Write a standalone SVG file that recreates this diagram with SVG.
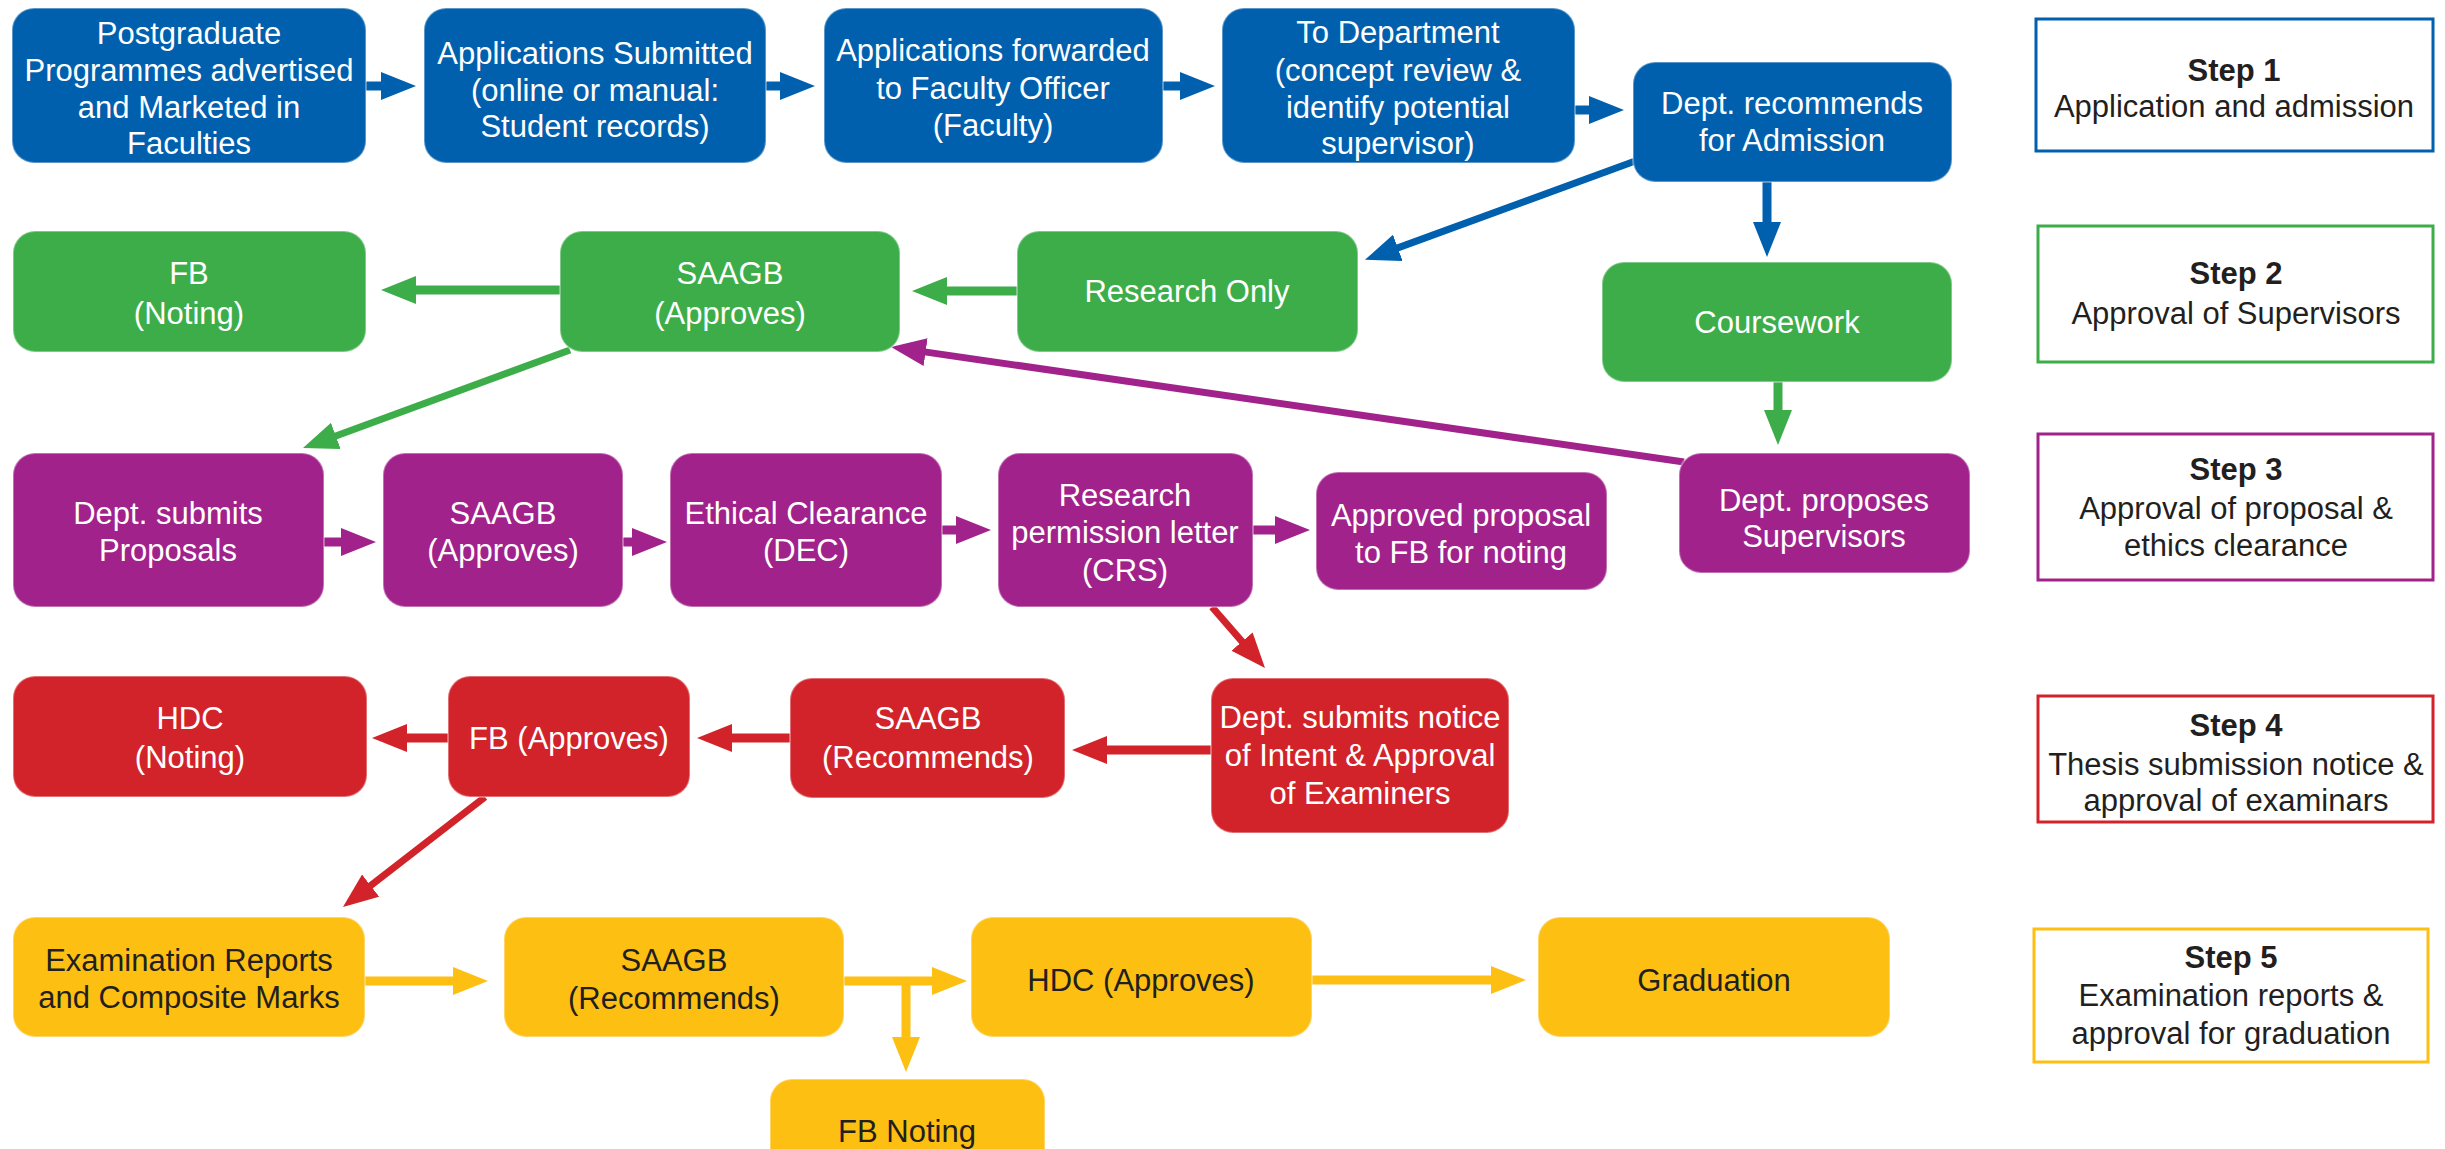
<svg xmlns="http://www.w3.org/2000/svg" width="2445" height="1149" viewBox="0 0 2445 1149">
<style>
.t{font-family:"Liberation Sans",Arial,sans-serif;font-size:31px;text-anchor:middle;fill:#fff}
.dk{fill:#231F20}
.st{font-family:"Liberation Sans",Arial,sans-serif;font-size:31px;text-anchor:middle;fill:#231F20}
.b{font-weight:bold}
.blue{fill:#0060AE}
.green{fill:#3DAD4A}
.purple{fill:#A1228B}
.red{fill:#D2232A}
.yellow{fill:#FDBF12}
.n rect{stroke:#fff;stroke-opacity:0.35;stroke-width:2}
.step{fill:#fff;stroke-width:3}
.c line{stroke-width:9;fill:none}
.c line.d{stroke-width:7}
.lb{stroke:#0060AE}.lg{stroke:#3DAD4A}.lp{stroke:#A1228B}.lr{stroke:#D2232A}.ly{stroke:#FDBF12}
</style>
<defs>
<marker id="hb" markerUnits="userSpaceOnUse" markerWidth="36" markerHeight="28" refX="8" refY="14" orient="auto"><path d="M0,0 L35,14 L0,28 z" fill="#0060AE"/></marker>
<marker id="hg" markerUnits="userSpaceOnUse" markerWidth="36" markerHeight="28" refX="8" refY="14" orient="auto"><path d="M0,0 L35,14 L0,28 z" fill="#3DAD4A"/></marker>
<marker id="hp" markerUnits="userSpaceOnUse" markerWidth="36" markerHeight="28" refX="8" refY="14" orient="auto"><path d="M0,0 L35,14 L0,28 z" fill="#A1228B"/></marker>
<marker id="hr" markerUnits="userSpaceOnUse" markerWidth="36" markerHeight="28" refX="8" refY="14" orient="auto"><path d="M0,0 L35,14 L0,28 z" fill="#D2232A"/></marker>
<marker id="hy" markerUnits="userSpaceOnUse" markerWidth="36" markerHeight="28" refX="8" refY="14" orient="auto"><path d="M0,0 L35,14 L0,28 z" fill="#FDBF12"/></marker>
</defs>
<rect width="2445" height="1149" fill="#fff"/>

<g id="connectors" class="c">
<line class="lb" x1="366" y1="86" x2="389" y2="86" marker-end="url(#hb)"/>
<line class="lb" x1="766" y1="86" x2="788" y2="86" marker-end="url(#hb)"/>
<line class="lb" x1="1163" y1="86" x2="1188" y2="86" marker-end="url(#hb)"/>
<line class="lb" x1="1575" y1="110" x2="1597" y2="110" marker-end="url(#hb)"/>
<line class="lb d" x1="1638" y1="160" x2="1390.3" y2="250.6" marker-end="url(#hb)"/>
<line class="lb" x1="1767" y1="182" x2="1767" y2="230" marker-end="url(#hb)"/>
<line class="lg" x1="560" y1="290" x2="408" y2="290" marker-end="url(#hg)"/>
<line class="lg" x1="1017" y1="291" x2="939" y2="291" marker-end="url(#hg)"/>
<line class="lg d" x1="570" y1="350" x2="328.3" y2="438.7" marker-end="url(#hg)"/>
<line class="lg" x1="1778" y1="382" x2="1778" y2="418" marker-end="url(#hg)"/>
<line class="lp" x1="324" y1="542" x2="349" y2="542" marker-end="url(#hp)"/>
<line class="lp" x1="623" y1="542" x2="640" y2="542" marker-end="url(#hp)"/>
<line class="lp" x1="942" y1="530" x2="964" y2="530" marker-end="url(#hp)"/>
<line class="lp" x1="1253" y1="530" x2="1283" y2="530" marker-end="url(#hp)"/>
<line class="lp d" x1="1684" y1="462" x2="917.7" y2="350.9" marker-end="url(#hp)"/>
<line class="lr d" x1="1212" y1="607" x2="1247.3" y2="647.6" marker-end="url(#hr)"/>
<line class="lr" x1="1211" y1="750" x2="1099" y2="750" marker-end="url(#hr)"/>
<line class="lr" x1="790" y1="738" x2="724" y2="738" marker-end="url(#hr)"/>
<line class="lr" x1="448" y1="738" x2="399" y2="738" marker-end="url(#hr)"/>
<line class="lr d" x1="485" y1="797" x2="364.3" y2="890.5" marker-end="url(#hr)"/>
<line class="ly" x1="365" y1="981" x2="461" y2="981" marker-end="url(#hy)"/>
<line class="ly" x1="844" y1="981" x2="940" y2="981" marker-end="url(#hy)"/>
<line class="ly" x1="906" y1="981" x2="906" y2="1045" marker-end="url(#hy)"/>
<line class="ly" x1="1312" y1="980" x2="1499" y2="980" marker-end="url(#hy)"/>
</g>

<g id="n1" class="n"><rect class="blue" x="12" y="8" width="354" height="155" rx="22"/><text class="t"><tspan x="189" y="44">Postgraduate</tspan><tspan x="189" y="81">Programmes advertised</tspan><tspan x="189" y="118">and Marketed in</tspan><tspan x="189" y="154">Faculties</tspan></text></g>
<g id="n2" class="n"><rect class="blue" x="424" y="8" width="342" height="155" rx="22"/><text class="t"><tspan x="595" y="64">Applications Submitted</tspan><tspan x="595" y="101">(online or manual:</tspan><tspan x="595" y="137">Student records)</tspan></text></g>
<g id="n3" class="n"><rect class="blue" x="824" y="8" width="339" height="155" rx="22"/><text class="t"><tspan x="993" y="61">Applications forwarded</tspan><tspan x="993" y="99">to Faculty Officer</tspan><tspan x="993" y="136">(Faculty)</tspan></text></g>
<g id="n4" class="n"><rect class="blue" x="1222" y="8" width="353" height="155" rx="22"/><text class="t"><tspan x="1398" y="43">To Department</tspan><tspan x="1398" y="81">(concept review &amp;</tspan><tspan x="1398" y="118">identify potential</tspan><tspan x="1398" y="154">supervisor)</tspan></text></g>
<g id="n5" class="n"><rect class="blue" x="1633" y="62" width="319" height="120" rx="22"/><text class="t"><tspan x="1792" y="114">Dept. recommends</tspan><tspan x="1792" y="151">for Admission</tspan></text></g>

<g id="n6" class="n"><rect class="green" x="13" y="231" width="353" height="121" rx="22"/><text class="t"><tspan x="189" y="284">FB</tspan><tspan x="189" y="324">(Noting)</tspan></text></g>
<g id="n7" class="n"><rect class="green" x="560" y="231" width="340" height="121" rx="22"/><text class="t"><tspan x="730" y="284">SAAGB</tspan><tspan x="730" y="324">(Approves)</tspan></text></g>
<g id="n8" class="n"><rect class="green" x="1017" y="231" width="341" height="121" rx="22"/><text class="t" x="1187" y="302">Research Only</text></g>
<g id="n9" class="n"><rect class="green" x="1602" y="262" width="350" height="120" rx="22"/><text class="t" x="1777" y="333">Coursework</text></g>

<g id="n10" class="n"><rect class="purple" x="13" y="453" width="311" height="154" rx="22"/><text class="t"><tspan x="168" y="524">Dept. submits</tspan><tspan x="168" y="561">Proposals</tspan></text></g>
<g id="n11" class="n"><rect class="purple" x="383" y="453" width="240" height="154" rx="22"/><text class="t"><tspan x="503" y="524">SAAGB</tspan><tspan x="503" y="561">(Approves)</tspan></text></g>
<g id="n12" class="n"><rect class="purple" x="670" y="453" width="272" height="154" rx="22"/><text class="t"><tspan x="806" y="524">Ethical Clearance</tspan><tspan x="806" y="561">(DEC)</tspan></text></g>
<g id="n13" class="n"><rect class="purple" x="998" y="453" width="255" height="154" rx="22"/><text class="t"><tspan x="1125" y="506">Research</tspan><tspan x="1125" y="543">permission letter</tspan><tspan x="1125" y="581">(CRS)</tspan></text></g>
<g id="n14" class="n"><rect class="purple" x="1316" y="472" width="291" height="118" rx="22"/><text class="t"><tspan x="1461" y="526">Approved proposal</tspan><tspan x="1461" y="563">to FB for noting</tspan></text></g>
<g id="n15" class="n"><rect class="purple" x="1679" y="453" width="291" height="120" rx="22"/><text class="t"><tspan x="1824" y="511">Dept. proposes</tspan><tspan x="1824" y="547">Supervisors</tspan></text></g>

<g id="n16" class="n"><rect class="red" x="13" y="676" width="354" height="121" rx="22"/><text class="t"><tspan x="190" y="729">HDC</tspan><tspan x="190" y="768">(Noting)</tspan></text></g>
<g id="n17" class="n"><rect class="red" x="448" y="676" width="242" height="121" rx="22"/><text class="t" x="569" y="749">FB (Approves)</text></g>
<g id="n18" class="n"><rect class="red" x="790" y="678" width="275" height="120" rx="22"/><text class="t"><tspan x="928" y="729">SAAGB</tspan><tspan x="928" y="768">(Recommends)</tspan></text></g>
<g id="n19" class="n"><rect class="red" x="1211" y="678" width="298" height="155" rx="22"/><text class="t"><tspan x="1360" y="728">Dept. submits notice</tspan><tspan x="1360" y="766">of Intent &amp; Approval</tspan><tspan x="1360" y="804">of Examiners</tspan></text></g>

<g id="n20" class="n"><rect class="yellow" x="13" y="917" width="352" height="120" rx="22"/><text class="t dk"><tspan x="189" y="971">Examination Reports</tspan><tspan x="189" y="1008">and Composite Marks</tspan></text></g>
<g id="n21" class="n"><rect class="yellow" x="504" y="917" width="340" height="120" rx="22"/><text class="t dk"><tspan x="674" y="971">SAAGB</tspan><tspan x="674" y="1009">(Recommends)</tspan></text></g>
<g id="n22" class="n"><rect class="yellow" x="971" y="917" width="341" height="120" rx="22"/><text class="t dk" x="1141" y="991">HDC (Approves)</text></g>
<g id="n23" class="n"><rect class="yellow" x="1538" y="917" width="352" height="120" rx="22"/><text class="t dk" x="1714" y="991">Graduation</text></g>
<g id="n24" class="n"><rect class="yellow" x="770" y="1079" width="275" height="120" rx="22"/><text class="t dk" x="907" y="1142">FB Noting</text></g>

<g id="step1"><rect class="step" x="2036" y="19" width="397" height="132" stroke="#0060AE"/><text class="st"><tspan class="b" x="2234" y="81">Step 1</tspan><tspan x="2234" y="117">Application and admission</tspan></text></g>
<g id="step2"><rect class="step" x="2038" y="226" width="395" height="136" stroke="#3DAD4A"/><text class="st"><tspan class="b" x="2236" y="284">Step 2</tspan><tspan x="2236" y="324">Approval of Supervisors</tspan></text></g>
<g id="step3"><rect class="step" x="2038" y="434" width="395" height="146" stroke="#A1228B"/><text class="st"><tspan class="b" x="2236" y="480">Step 3</tspan><tspan x="2236" y="519">Approval of proposal &amp;</tspan><tspan x="2236" y="556">ethics clearance</tspan></text></g>
<g id="step4"><rect class="step" x="2038" y="696" width="395" height="126" stroke="#D2232A"/><text class="st"><tspan class="b" x="2236" y="736">Step 4</tspan><tspan x="2236" y="775">Thesis submission notice &amp;</tspan><tspan x="2236" y="811">approval of examinars</tspan></text></g>
<g id="step5"><rect class="step" x="2034" y="929" width="394" height="133" stroke="#FDBF12"/><text class="st"><tspan class="b" x="2231" y="968">Step 5</tspan><tspan x="2231" y="1006">Examination reports &amp;</tspan><tspan x="2231" y="1044">approval for graduation</tspan></text></g>
</svg>
